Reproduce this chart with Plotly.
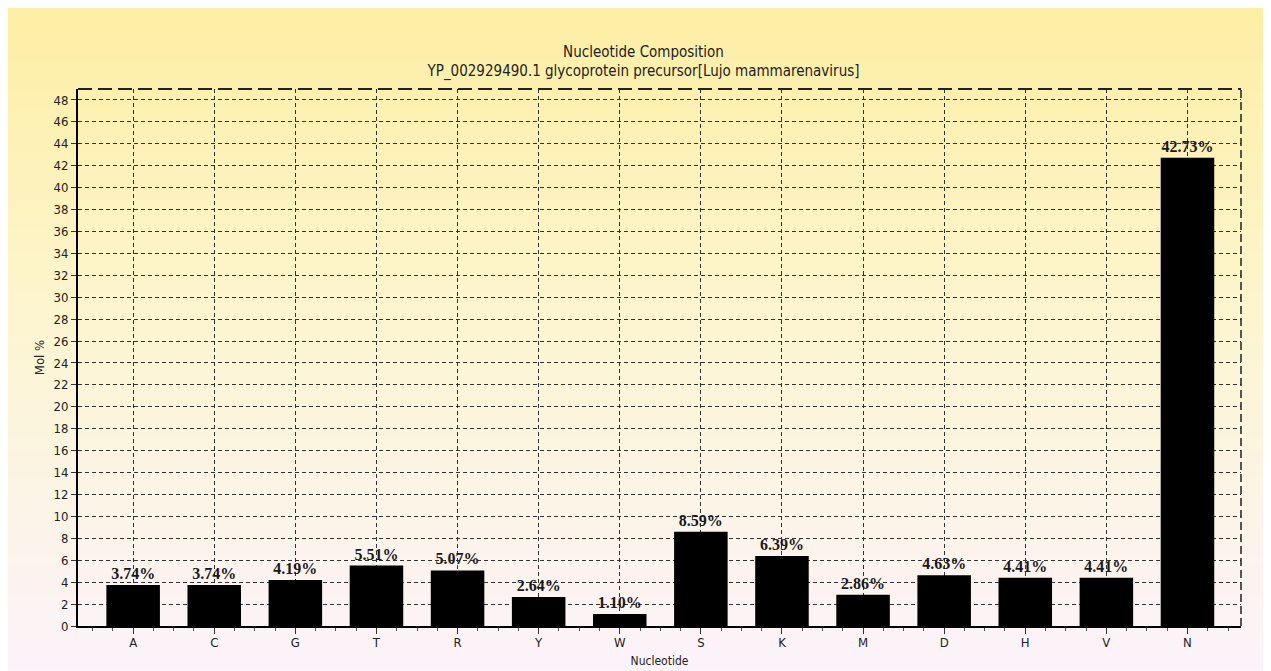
import plotly.graph_objects as go

categories = ["A", "C", "G", "T", "R", "Y", "W", "S", "K", "M", "D", "H", "V", "N"]
values = [3.74, 3.74, 4.19, 5.51, 5.07, 2.64, 1.10, 8.59, 6.39, 2.86, 4.63, 4.41, 4.41, 42.73]
y_ticks = list(range(0, 50, 2))

W, H = 1271, 671
L, R, T, B = 70, 38, 81, 53
pw, ph = W - L - R, H - T - B

xpos = list(range(len(categories)))
FONT = "Liberation Sans Narrow, DejaVu Sans Condensed, Liberation Sans"

fig = go.Figure()
fig.add_trace(go.Bar(
    x=xpos, y=values, width=0.66,
    marker=dict(color="black", line=dict(width=0)),
    texttemplate="<b>%{y:.2f}%</b>", textposition="outside",
    textfont=dict(family="Liberation Serif", size=16, color="#1a1a1a"),
    cliponaxis=False, showlegend=False,
))

# gradient background bands
shapes = []
n = 80
top_c = (253, 239, 165)
mid_c = (253, 246, 212)
bot_c = (252, 243, 251)
fx0 = -L / pw
fx1 = 1 + R / pw
fy_top = 1 + T / ph
fy_bot = -B / ph
for i in range(n):
    t = i / (n - 1)
    if t < 0.5:
        u = t / 0.5
        c = tuple(int(top_c[k] + (mid_c[k] - top_c[k]) * u) for k in range(3))
    else:
        u = (t - 0.5) / 0.5
        c = tuple(int(mid_c[k] + (bot_c[k] - mid_c[k]) * u) for k in range(3))
    y1 = fy_top - (fy_top - fy_bot) * i / n
    y0 = fy_top - (fy_top - fy_bot) * (i + 1) / n - 0.002
    shapes.append(dict(type="rect", xref="paper", yref="paper", x0=fx0, x1=fx1,
                       y0=y0, y1=y1, fillcolor="rgb(%d,%d,%d)" % c,
                       line=dict(width=0), layer="below"))
# top long-dashed border and right dashed border
shapes.append(dict(type="line", xref="paper", yref="paper", x0=0, x1=1, y0=1, y1=1,
                   line=dict(color="#222", width=2, dash="14px,6px")))
shapes.append(dict(type="line", xref="paper", yref="paper", x0=1, x1=1, y0=0, y1=1,
                   line=dict(color="#222", width=1.5, dash="8px,4px")))

fig.update_layout(
    width=W, height=H,
    margin=dict(l=L, r=R, t=T, b=B, pad=0, autoexpand=False),
    paper_bgcolor="white", plot_bgcolor="rgba(0,0,0,0)",
    shapes=shapes,
    title=dict(text="Nucleotide Composition<br>YP_002929490.1 glycoprotein precursor[Lujo mammarenavirus]",
               x=0.5, xanchor="center", y=0.927, yanchor="middle",
               font=dict(family=FONT, size=15, color="#222")),
    font=dict(family=FONT, size=12, color="#222"),
)
fig.update_xaxes(
    range=[-0.68, len(categories) - 1 + 0.66], automargin=False,
    tickmode="array", tickvals=xpos, ticktext=categories,
    showgrid=True, gridcolor="#333", griddash="4px,3px", gridwidth=1,
    showline=True, linecolor="black", linewidth=2,
    ticks="outside", ticklen=6, tickcolor="#333", ticklabelstandoff=-3,
    minor=dict(dtick=0.25, tick0=0, ticks="outside", ticklen=3, tickcolor="#555", showgrid=False),
    tickfont=dict(size=13, color="#222"),
    title=dict(text="Nucleotide", font=dict(size=12, color="#222"), standoff=8),
    zeroline=False,
)
fig.update_yaxes(
    range=[0, 49], automargin=False, tickmode="array", tickvals=y_ticks,
    showgrid=True, gridcolor="#333", griddash="4px,3px", gridwidth=1,
    showline=True, linecolor="black", linewidth=2,
    ticks="outside", ticklen=5, tickcolor="#333",
    tickfont=dict(size=13, color="#222"),
    title=dict(text="Mol %", font=dict(size=13, color="#222"), standoff=6),
    zeroline=False,
)
fig.write_html("out.html")
